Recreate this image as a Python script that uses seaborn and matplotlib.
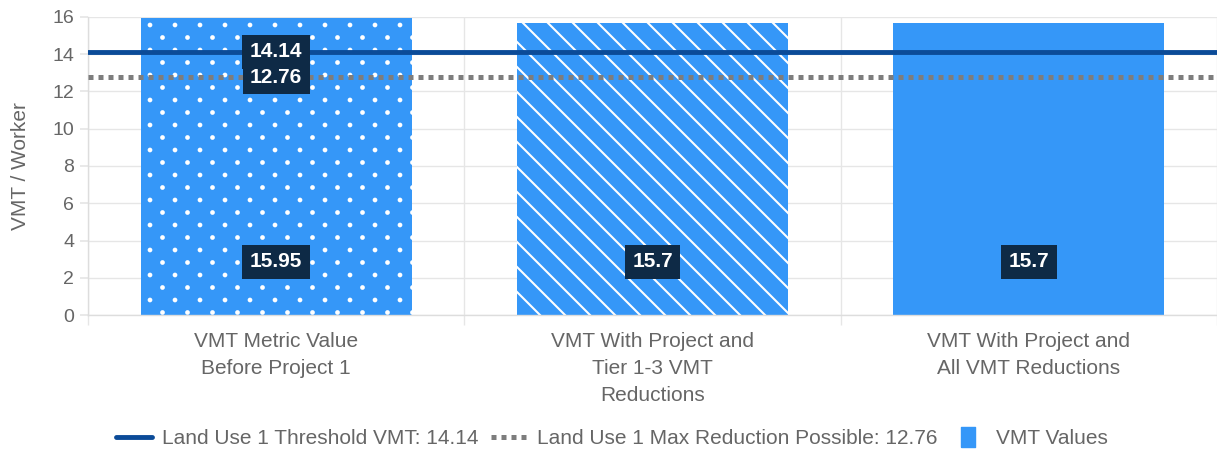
import textwrap

import numpy as np
import pandas as pd
import matplotlib
matplotlib.use("Agg")
import matplotlib.pyplot as plt
from matplotlib import hatch as mhatch
from matplotlib.path import Path
from matplotlib.lines import Line2D
import seaborn as sns

# ---- data -------------------------------------------------------------
categories = [
    "VMT Metric Value Before Project 1",
    "VMT With Project and Tier 1-3 VMT Reductions",
    "VMT With Project and All VMT Reductions",
]
vmt_values = [15.95, 15.7, 15.7]
threshold_vmt = 14.14
max_reduction_vmt = 12.76
y_ticks = [0, 2, 4, 6, 8, 10, 12, 14, 16]
y_label = "VMT / Worker"
legend_labels = [
    f"Land Use 1 Threshold VMT: {threshold_vmt}",
    f"Land Use 1 Max Reduction Possible: {max_reduction_vmt}",
    "VMT Values",
]
bar_hatches = [".", "\\", ""]

# ---- style ------------------------------------------------------------
BAR_BLUE = "#3597f8"
NAVY = "#0b4b98"
DOT_GRAY = "#7d7d7d"
LABEL_BG = "#0e2a46"
TEXT_GRAY = "#666666"
GRID = "#e6e6e6"
W, H = 1217, 451


# Hatch tiles: sparse back-slash stripes and staggered dots.
class StripeHatch(mhatch.HatchPatternBase):
    lines_per_tile = 8

    def __init__(self, hatch, density):
        self.num_lines = self.lines_per_tile * hatch.count("\\")
        self.num_vertices = (self.num_lines + 1) * 2 if self.num_lines else 0

    def set_vertices_and_codes(self, vertices, codes):
        steps = np.linspace(-0.5, 0.5, self.num_lines + 1)
        vertices[0::2, 0] = 0.0 + steps
        vertices[0::2, 1] = 1.0 + steps
        vertices[1::2, 0] = 1.0 + steps
        vertices[1::2, 1] = 0.0 + steps
        codes[0::2] = Path.MOVETO
        codes[1::2] = Path.LINETO


class StaggeredDotHatch(mhatch.HatchPatternBase):
    cols, rows, radius = 4, 8, 0.013

    def __init__(self, hatch, density):
        circle = Path.unit_circle()
        self.shape_vertices = circle.vertices
        self.shape_codes = circle.codes
        centers = []
        if "." in hatch:
            for r in range(self.rows + 1):
                y = r / self.rows
                if r % 2 == 0:
                    xs = np.linspace(0, 1, self.cols + 1)
                else:
                    xs = (np.arange(self.cols) + 0.5) / self.cols
                centers.extend((x, y) for x in xs)
        self.centers = centers
        self.num_vertices = len(centers) * len(self.shape_vertices)

    def set_vertices_and_codes(self, vertices, codes):
        n = len(self.shape_vertices)
        for i, (x, y) in enumerate(self.centers):
            vertices[i * n:(i + 1) * n] = self.shape_vertices * self.radius + (x, y)
            codes[i * n:(i + 1) * n] = self.shape_codes


mhatch._hatch_types = [StripeHatch, StaggeredDotHatch]

sns.set_theme(style="white")
plt.rcParams["font.family"] = ["Liberation Sans", "DejaVu Sans"]
plt.rcParams["hatch.color"] = "white"
plt.rcParams["hatch.linewidth"] = 1.5

fig = plt.figure(figsize=(W / 100, H / 100), dpi=100)
ax = fig.add_axes([88 / W, 136 / H, (W - 88) / W, 298 / H])

df = pd.DataFrame({
    "category": [textwrap.fill(c, 20) for c in categories],
    "vmt": vmt_values,
})
sns.barplot(data=df, x="category", y="vmt", color=BAR_BLUE, saturation=1,
            width=0.72, edgecolor="white", linewidth=0, ax=ax, zorder=2)
for patch, h in zip(ax.patches, bar_hatches):
    patch.set_hatch(h)

# reference lines
ax.axhline(threshold_vmt, color=NAVY, lw=3.5, zorder=3)
ax.axhline(max_reduction_vmt, color=DOT_GRAY, lw=3.6, ls=(0, (1, 1)), zorder=3)

# axes, ticks, grid
ax.set_xlim(-0.5, 2.487)
ax.set_ylim(0, 16)
ax.set_yticks(y_ticks)
ax.set_xticks([-0.5, 0.5, 1.5, 2.5], minor=True)
ax.grid(True, axis="y", color=GRID, lw=1)
ax.grid(True, axis="x", which="minor", color=GRID, lw=1)
ax.set_axisbelow(True)
for side in ("top", "right"):
    ax.spines[side].set_visible(False)
for side in ("left", "bottom"):
    ax.spines[side].set_color("#dddddd")
    ax.spines[side].set_linewidth(1)
ax.tick_params(axis="y", which="major", length=6, color=GRID, pad=4,
               labelsize=14, labelcolor=TEXT_GRAY, left=True)
ax.tick_params(axis="x", which="major", length=0, pad=12,
               labelsize=15, labelcolor=TEXT_GRAY)
ax.tick_params(axis="x", which="minor", length=7, color=GRID, bottom=True)
for lbl in ax.get_xticklabels():
    lbl.set_linespacing(1.53)
ax.set_xlabel("")
ax.set_ylabel(y_label, fontsize=15, color=TEXT_GRAY, labelpad=16)

# value labels
box = dict(boxstyle="square,pad=0.36", fc=LABEL_BG, ec="none")
for i, v in enumerate(vmt_values):
    ax.text(i, 2.85, f"{v:g}", ha="center", va="center", color="white",
            fontsize=15, fontweight="bold", bbox=box, zorder=5)
for v in (max_reduction_vmt, threshold_vmt):
    ax.text(0, v, f"{v:g}", ha="center", va="center", color="white",
            fontsize=15, fontweight="bold", bbox=box, zorder=5)

# legend
tall_box = [(-0.35, -0.5), (0.35, -0.5), (0.35, 0.5), (-0.35, 0.5), (-0.35, -0.5)]
handles = [
    Line2D([], [], color=NAVY, lw=3.5),
    Line2D([], [], color=DOT_GRAY, lw=3.6, ls=(0, (1, 1))),
    Line2D([], [], color=BAR_BLUE, marker=tall_box, ls="", markersize=15),
]
fig.legend(handles, legend_labels, loc="center", bbox_to_anchor=(0.503, 0.028),
           ncol=3, frameon=False, fontsize=15, labelcolor=TEXT_GRAY,
           handlelength=1.7, handletextpad=0.5, columnspacing=0.6)

fig.savefig("out.png", dpi=100, facecolor="white")
